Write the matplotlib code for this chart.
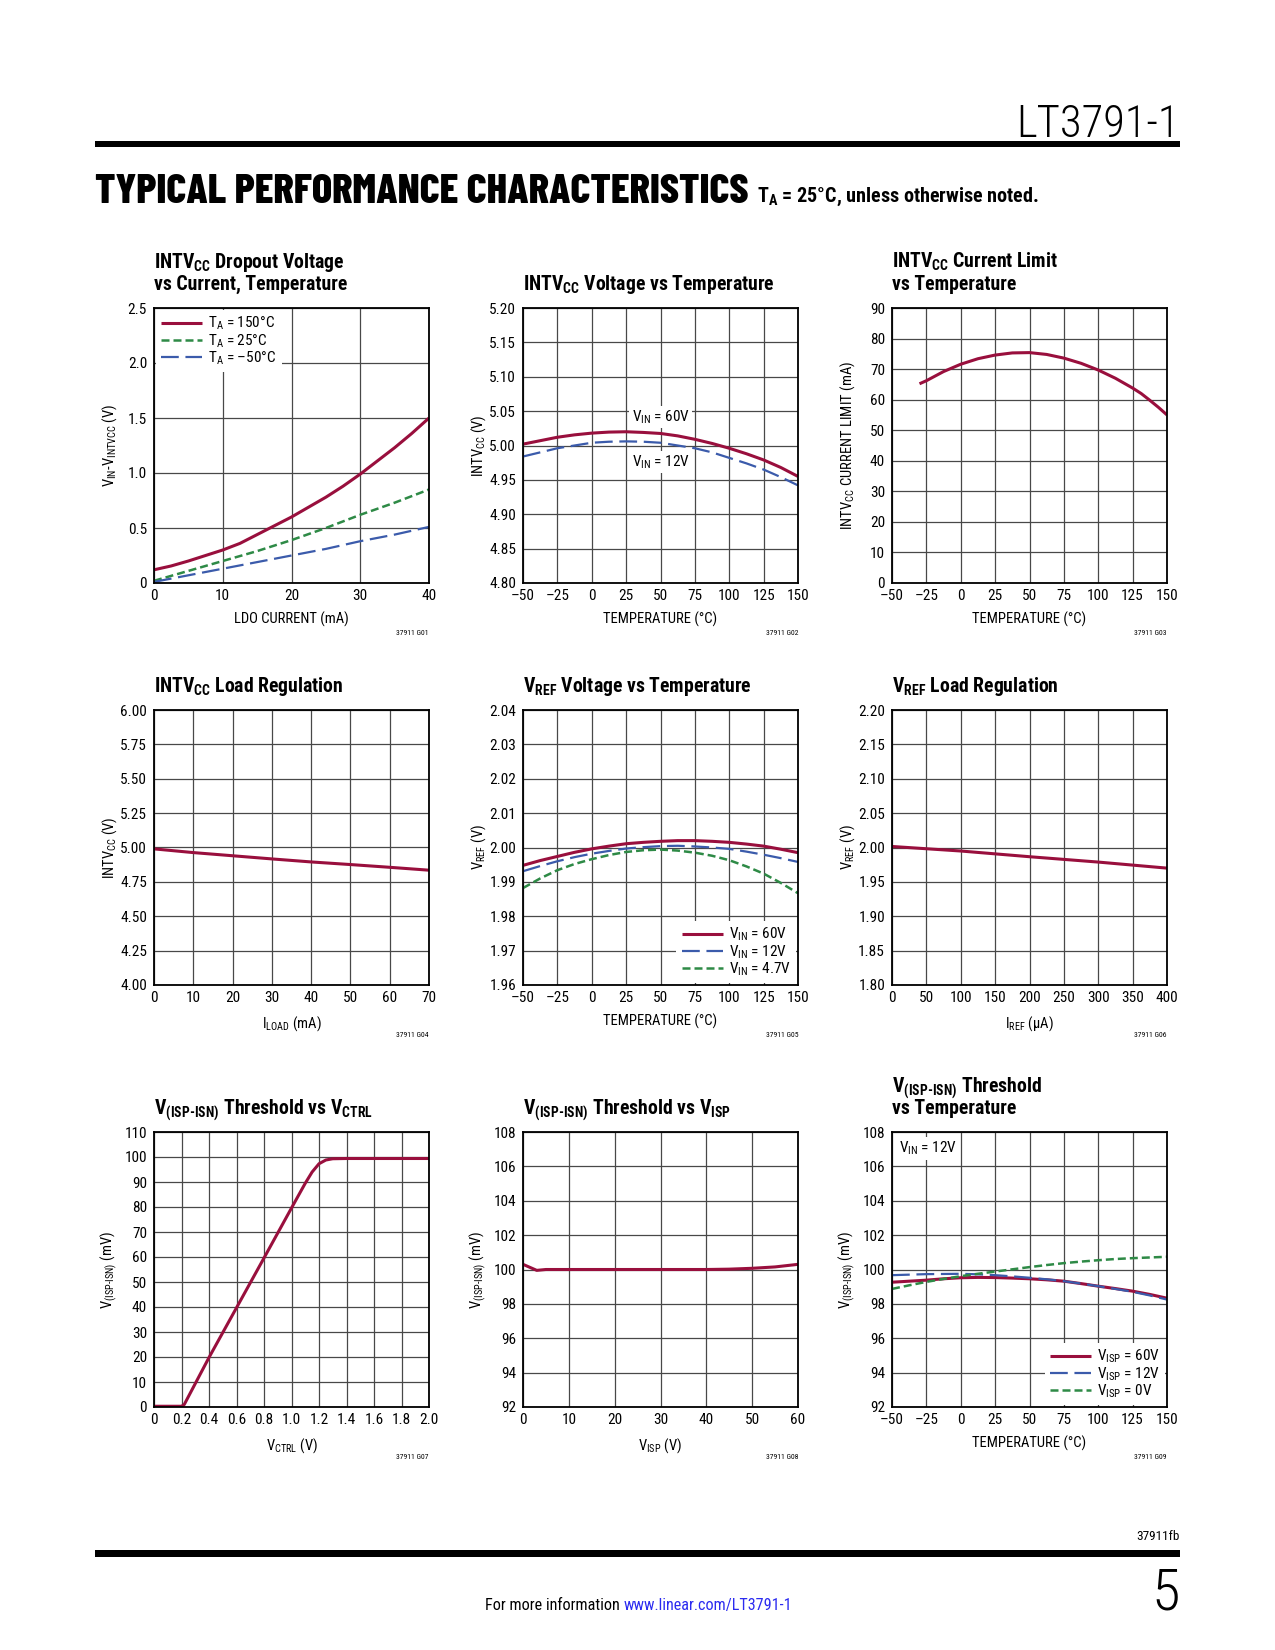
import matplotlib
matplotlib.use("Agg")
import matplotlib.pyplot as plt
from matplotlib import font_manager
from matplotlib.patches import Rectangle


def weights_of(name):
    out = set()
    for f in font_manager.fontManager.ttflist:
        if f.name == name:
            w = f.weight
            if isinstance(w, str):
                w = {"normal": 400, "regular": 400, "bold": 700}.get(w, 400)
            out.add(int(w))
    return out


def pick(cands, need):
    for c in cands:
        if need <= weights_of(c):
            return c
    return "Liberation Sans"


FONT = pick(["Roboto Condensed", "Liberation Sans Narrow", "PT Sans Narrow",
             "Archivo Narrow", "Encode Sans Condensed", "Asap Condensed"], {400, 700})
HEAD = pick(["Barlow Condensed", "Asap Condensed", "Encode Sans Condensed"], {800})

plt.rcParams["font.family"] = [FONT, "DejaVu Sans"]
plt.rcParams["mathtext.fontset"] = "custom"
plt.rcParams["mathtext.rm"] = FONT
plt.rcParams["mathtext.default"] = "regular"

RED = "#990f3d"
GREEN = "#2e8a46"
BLUE = "#3b5bab"
GRID = "#484848"
HY = "\u2010"  # hyphen inside subscripts

# ---- G01: dropout voltage vs LDO current
LDO_I = [0, 2.5, 5, 7.5, 10, 12.5, 15, 17.5, 20, 22.5, 25, 27.5, 30, 32.5, 35, 37.5, 40]
DROP_150C = [0.12, 0.155, 0.20, 0.25, 0.30, 0.36, 0.44, 0.52, 0.60, 0.69, 0.78, 0.88,
             0.99, 1.11, 1.23, 1.36, 1.50]
LDO_I2 = [0, 5, 10, 15, 20, 25, 30, 35, 40]
DROP_25C = [0.02, 0.11, 0.20, 0.29, 0.39, 0.50, 0.62, 0.73, 0.85]
DROP_M50C = [0.01, 0.07, 0.13, 0.19, 0.25, 0.31, 0.38, 0.44, 0.51]

# ---- G02: INTVCC vs temperature
TEMP = [-50, -37.5, -25, -12.5, 0, 12.5, 25, 37.5, 50, 62.5, 75, 87.5, 100, 112.5, 125, 137.5, 150]
INTVCC_60V = [5.002, 5.007, 5.012, 5.0155, 5.018, 5.0195, 5.020, 5.019, 5.0175, 5.014, 5.009,
              5.003, 4.996, 4.988, 4.979, 4.968, 4.955]
INTVCC_12V = [4.984, 4.990, 4.996, 5.000, 5.004, 5.0055, 5.006, 5.0055, 5.004, 5.000, 4.996,
              4.990, 4.982, 4.974, 4.965, 4.954, 4.942]

# ---- G03: INTVCC current limit vs temperature
TEMP_ILIM = [-30, -25, -12.5, 0, 12.5, 25, 37.5, 50, 62.5, 75, 87.5, 100, 112.5, 125,
             131.25, 137.5, 143.75, 150]
ILIM = [65.2, 66.2, 69.2, 71.6, 73.4, 74.6, 75.3, 75.4, 74.8, 73.6, 71.9, 69.7, 67.0, 63.8,
        62.0, 59.8, 57.5, 55.0]

# ---- G04: INTVCC load regulation
ILOAD = [0, 10, 20, 30, 40, 50, 60, 70]
INTVCC_LOAD = [4.990, 4.963, 4.940, 4.917, 4.895, 4.876, 4.856, 4.835]

# ---- G05: VREF vs temperature
VREF_60V = [1.9948, 1.9962, 1.9974, 1.9986, 1.9996, 2.0004, 2.0011, 2.0015, 2.0018, 2.0020,
            2.0020, 2.0018, 2.0015, 2.0010, 2.0004, 1.9995, 1.9985]
VREF_12V = [1.9931, 1.9946, 1.9960, 1.9972, 1.9982, 1.9990, 1.9997, 2.0001, 2.0004, 2.0005,
            2.0003, 2.0000, 1.9996, 1.9988, 1.9979, 1.9969, 1.9958]
VREF_47V = [1.9882, 1.9910, 1.9934, 1.9952, 1.9966, 1.9978, 1.9987, 1.9992, 1.9994, 1.9991,
            1.9985, 1.9976, 1.9963, 1.9945, 1.9924, 1.9897, 1.9867]

# ---- G06: VREF load regulation
IREF = [0, 100, 200, 300, 400]
VREF_LOAD = [2.0015, 1.9949, 1.9866, 1.9788, 1.9700]

# ---- G07: threshold vs VCTRL
VCTRL = [0, 0.2, 0.22, 0.4, 0.6, 0.8, 1.0, 1.1, 1.15, 1.2, 1.25, 1.3, 1.4, 2.0]
VTH_CTRL = [0.3, 0.3, 1.0, 19.8, 39.7, 59.6, 79.6, 89.5, 94.0, 97.3, 98.8, 99.3, 99.4, 99.4]

# ---- G08: threshold vs VISP
VISP = [0, 3, 5, 10, 20, 30, 40, 45, 50, 55, 60]
VTH_ISP = [100.3, 99.95, 100.0, 100.0, 100.0, 100.0, 100.0, 100.02, 100.07, 100.15, 100.3]

# ---- G09: threshold vs temperature
VTH_60V = [99.26, 99.32, 99.38, 99.46, 99.52, 99.54, 99.53, 99.50, 99.46, 99.40, 99.32, 99.18,
           99.03, 98.89, 98.74, 98.55, 98.33]
VTH_12V = [99.67, 99.70, 99.73, 99.74, 99.75, 99.72, 99.67, 99.60, 99.52, 99.43, 99.32, 99.18,
           99.03, 98.87, 98.70, 98.49, 98.25]
VTH_0V = [98.87, 99.08, 99.28, 99.45, 99.61, 99.75, 99.88, 100.01, 100.14, 100.26, 100.37,
          100.46, 100.54, 100.61, 100.66, 100.70, 100.74]

W, H = 1275, 1650
fig = plt.figure(figsize=(W / 100, H / 100), dpi=100)
fig.patch.set_facecolor("white")

COLS = [154, 523, 892]
ROWS = [308, 710, 1132]
SIZE = 275


def fx(x):
    return x / W


def fy(y):
    return 1 - y / H


def make_ax(col, row):
    l, t = COLS[col], ROWS[row]
    return fig.add_axes([fx(l), fy(t + SIZE), SIZE / W, SIZE / H])


def fmt(v, nd):
    s = f"{v:.{nd}f}" if v != 0 else "0"
    return s.replace("-", "\u2013")


def style(ax, xlim, xticks, xnd, ylim, yticks, ynd, xlabel, ylabel, title, code):
    ax.set_xlim(xlim)
    ax.set_ylim(ylim)
    ax.set_xticks(xticks)
    ax.set_yticks(yticks)
    ax.set_xticklabels([fmt(v, xnd) for v in xticks])
    ax.set_yticklabels([fmt(v, ynd) for v in yticks])
    ax.tick_params(length=0, labelsize=11)
    ax.tick_params(axis="x", pad=4.5)
    ax.tick_params(axis="y", pad=5)
    ax.grid(True, color=GRID, lw=0.9)
    ax.set_axisbelow(True)
    for sp in ax.spines.values():
        sp.set_linewidth(1.3)
        sp.set_color("black")
    ax.set_xlabel(xlabel, fontsize=10.5)
    ax.set_ylabel(ylabel, fontsize=10.5)
    ax.xaxis.set_label_coords(0.5, -0.105)
    ax.yaxis.set_label_coords(-0.126, 0.5)
    lines = title if isinstance(title, list) else [title]
    offs = [0.065] if len(lines) == 1 else [0.145, 0.065]
    for s, o in zip(lines, offs):
        ax.text(0, 1 + o, s, transform=ax.transAxes, ha="left", va="baseline",
                fontsize=14.2, fontweight="bold")
    ax.text(1, -0.19, code, transform=ax.transAxes, ha="right", va="baseline",
            fontsize=5.5)


def legend(ax, loc):
    return ax.legend(loc=loc, fontsize=11, frameon=True, fancybox=False,
                     framealpha=1, facecolor="white", edgecolor="none",
                     handlelength=2.7, handletextpad=0.4, labelspacing=0.0,
                     borderpad=0.35, borderaxespad=0.1)


SOLID = dict(color=RED, lw=2.2, solid_capstyle="butt")
SHORT = dict(color=GREEN, lw=1.8, linestyle=(0, (3.2, 1.6)))
LONG = dict(color=BLUE, lw=1.6, linestyle=(0, (8, 3)))
temp_ticks = [-50, -25, 0, 25, 50, 75, 100, 125, 150]

# G01
ax = make_ax(0, 0)
ax.plot(LDO_I, DROP_150C, label="T$_{A}$ = 150°C", **SOLID)
ax.plot(LDO_I2, DROP_25C, label="T$_{A}$ = 25°C", **SHORT)
ax.plot(LDO_I2, DROP_M50C, label="T$_{A}$ = \u201350°C", **LONG)
style(ax, (0, 40), [0, 10, 20, 30, 40], 0, (0, 2.5), [0, 0.5, 1.0, 1.5, 2.0, 2.5], 1,
      "LDO CURRENT (mA)", "V$_{IN}$-V$_{INTVCC}$ (V)",
      ["INTV$_{CC}$ Dropout Voltage", "vs Current, Temperature"], "37911 G01")
legend(ax, "upper left")

# G02
ax = make_ax(1, 0)
ax.plot(TEMP, INTVCC_60V, **SOLID)
ax.plot(TEMP, INTVCC_12V, **LONG)
style(ax, (-50, 150), temp_ticks, 0, (4.80, 5.20),
      [4.80, 4.85, 4.90, 4.95, 5.00, 5.05, 5.10, 5.15, 5.20], 2,
      "TEMPERATURE (°C)", "INTV$_{CC}$ (V)", "INTV$_{CC}$ Voltage vs Temperature", "37911 G02")
box = dict(facecolor="white", edgecolor="none", pad=1.5)
ax.text(50, 5.041, "V$_{IN}$ = 60V", ha="center", va="center", fontsize=11, bbox=box)
ax.text(50, 4.976, "V$_{IN}$ = 12V", ha="center", va="center", fontsize=11, bbox=box)

# G03
ax = make_ax(2, 0)
ax.plot(TEMP_ILIM, ILIM, **SOLID)
style(ax, (-50, 150), temp_ticks, 0, (0, 90), list(range(0, 91, 10)), 0,
      "TEMPERATURE (°C)", "INTV$_{CC}$ CURRENT LIMIT (mA)",
      ["INTV$_{CC}$ Current Limit", "vs Temperature"], "37911 G03")

# G04
ax = make_ax(0, 1)
ax.plot(ILOAD, INTVCC_LOAD, **SOLID)
style(ax, (0, 70), list(range(0, 71, 10)), 0, (4.0, 6.0),
      [4.0, 4.25, 4.5, 4.75, 5.0, 5.25, 5.5, 5.75, 6.0], 2,
      "I$_{LOAD}$ (mA)", "INTV$_{CC}$ (V)", "INTV$_{CC}$ Load Regulation", "37911 G04")

# G05
ax = make_ax(1, 1)
ax.plot(TEMP, VREF_60V, label="V$_{IN}$ = 60V", **SOLID)
ax.plot(TEMP, VREF_12V, label="V$_{IN}$ = 12V", **LONG)
ax.plot(TEMP, VREF_47V, label="V$_{IN}$ = 4.7V", **SHORT)
style(ax, (-50, 150), temp_ticks, 0, (1.96, 2.04),
      [1.96, 1.97, 1.98, 1.99, 2.00, 2.01, 2.02, 2.03, 2.04], 2,
      "TEMPERATURE (°C)", "V$_{REF}$ (V)", "V$_{REF}$ Voltage vs Temperature", "37911 G05")
legend(ax, "lower right")

# G06
ax = make_ax(2, 1)
ax.plot(IREF, VREF_LOAD, **SOLID)
style(ax, (0, 400), list(range(0, 401, 50)), 0, (1.80, 2.20),
      [1.80, 1.85, 1.90, 1.95, 2.00, 2.05, 2.10, 2.15, 2.20], 2,
      "I$_{REF}$ (µA)", "V$_{REF}$ (V)", "V$_{REF}$ Load Regulation", "37911 G06")

# G07
ax = make_ax(0, 2)
ax.plot(VCTRL, VTH_CTRL, **SOLID)
style(ax, (0, 2.0), [0, 0.2, 0.4, 0.6, 0.8, 1.0, 1.2, 1.4, 1.6, 1.8, 2.0], 1,
      (0, 110), list(range(0, 111, 10)), 0,
      "V$_{CTRL}$ (V)", f"V$_{{(ISP{HY}ISN)}}$ (mV)",
      f"V$_{{(ISP{HY}ISN)}}$ Threshold vs V$_{{CTRL}}$", "37911 G07")

# G08
ax = make_ax(1, 2)
ax.plot(VISP, VTH_ISP, **SOLID)
style(ax, (0, 60), list(range(0, 61, 10)), 0, (92, 108), list(range(92, 109, 2)), 0,
      "V$_{ISP}$ (V)", f"V$_{{(ISP{HY}ISN)}}$ (mV)",
      f"V$_{{(ISP{HY}ISN)}}$ Threshold vs V$_{{ISP}}$", "37911 G08")

# G09
ax = make_ax(2, 2)
ax.plot(TEMP, VTH_60V, label="V$_{ISP}$ = 60V", **SOLID)
ax.plot(TEMP, VTH_12V, label="V$_{ISP}$ = 12V", **LONG)
ax.plot(TEMP, VTH_0V, label="V$_{ISP}$ = 0V", **SHORT)
style(ax, (-50, 150), temp_ticks, 0, (92, 108), list(range(92, 109, 2)), 0,
      "TEMPERATURE (°C)", f"V$_{{(ISP{HY}ISN)}}$ (mV)",
      [f"V$_{{(ISP{HY}ISN)}}$ Threshold", "vs Temperature"], "37911 G09")
ax.text(0.025, 0.94, "V$_{IN}$ = 12V", transform=ax.transAxes, ha="left", va="center",
        fontsize=11, bbox=dict(facecolor="white", edgecolor="none", pad=2))
legend(ax, "lower right")

# page header / footer
fig.text(fx(1180), fy(137), "LT3791-1", ha="right", va="baseline", fontsize=32,
         fontweight="light")
fig.add_artist(Rectangle((fx(95), fy(147)), fx(1180) - fx(95), 6 / H,
                         transform=fig.transFigure, color="black", lw=0))
fig.text(fx(95), fy(203), "TYPICAL PERFORMANCE CHARACTERISTICS", ha="left",
         va="baseline", fontsize=30.5, fontweight=800, family=HEAD)
fig.text(fx(757), fy(202), "T$_{A}$ = 25°C, unless otherwise noted.", ha="left",
         va="baseline", fontsize=14.5, fontweight="bold")

fig.text(fx(1180), fy(1540), "37911fb", ha="right", va="baseline", fontsize=9.5)
fig.add_artist(Rectangle((fx(95), fy(1557)), fx(1180) - fx(95), 7 / H,
                         transform=fig.transFigure, color="black", lw=0))
fig.text(fx(1180), fy(1609), "5", ha="right", va="baseline", fontsize=42,
         fontweight="light")
t1 = fig.text(fx(485), fy(1610), "For more information ", ha="left", va="baseline",
              fontsize=11.6)
fig.canvas.draw()
bb = t1.get_window_extent()
fig.text(bb.x1 / W, fy(1610), "www.linear.com/LT3791-1", ha="left", va="baseline",
         fontsize=11.6, color="#2b2bf0")

fig.savefig("out.png", dpi=100, facecolor="white")
